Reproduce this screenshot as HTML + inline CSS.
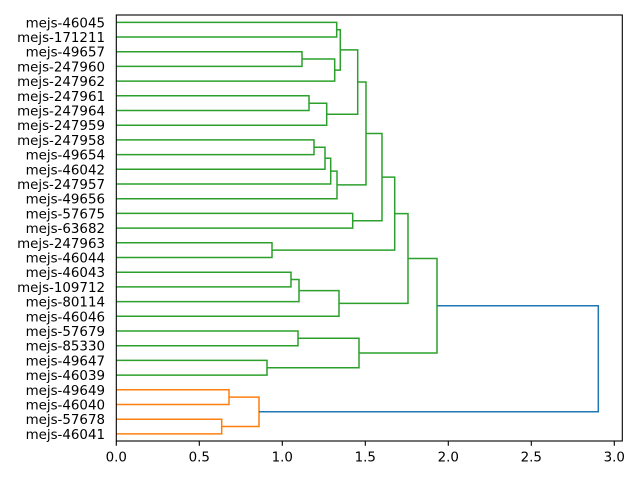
<!DOCTYPE html>
<html><head><meta charset="utf-8"><style>
html,body{margin:0;padding:0;background:#fff;}
svg{display:block;}
text{font-family:"DejaVu Sans","Liberation Sans",sans-serif;font-size:13.4px;fill:#000;}
</style></head><body>
<svg width="640" height="480" viewBox="0 0 640 480" xmlns="http://www.w3.org/2000/svg">
<rect width="640" height="480" fill="#fff"/>
<g fill="none" stroke-width="1.5" stroke-linejoin="miter" stroke-linecap="butt">
<g stroke="#2ca02c">
<polyline points="116.3,22.35 336.7,22.35 336.7,37.04 116.3,37.04"/>
<polyline points="116.3,51.7 302,51.7 302,66.4 116.3,66.4"/>
<polyline points="302,59.0 334.7,59.0 334.7,81.1 116.3,81.1"/>
<polyline points="336.7,29.7 340.3,29.7 340.3,70.1 334.7,70.1"/>
<polyline points="116.3,95.8 309,95.8 309,110.5 116.3,110.5"/>
<polyline points="309,103.2 326.7,103.2 326.7,125.2 116.3,125.2"/>
<polyline points="340.3,49.9 357.7,49.9 357.7,114.2 326.7,114.2"/>
<polyline points="116.3,139.9 314,139.9 314,154.6 116.3,154.6"/>
<polyline points="314,147.2 325,147.2 325,169.3 116.3,169.3"/>
<polyline points="325,158.3 330.7,158.3 330.7,184.0 116.3,184.0"/>
<polyline points="330.7,171.1 337,171.1 337,198.7 116.3,198.7"/>
<polyline points="357.7,82.0 366,82.0 366,184.9 337,184.9"/>
<polyline points="116.3,213.4 352.7,213.4 352.7,228.1 116.3,228.1"/>
<polyline points="366,133.5 382,133.5 382,220.7 352.7,220.7"/>
<polyline points="116.3,242.8 272,242.8 272,257.5 116.3,257.5"/>
<polyline points="382,177.1 394.7,177.1 394.7,250.1 272,250.1"/>
<polyline points="116.3,272.2 291,272.2 291,286.9 116.3,286.9"/>
<polyline points="291,279.5 299,279.5 299,301.6 116.3,301.6"/>
<polyline points="299,290.6 339,290.6 339,316.3 116.3,316.3"/>
<polyline points="394.7,213.6 408,213.6 408,303.4 339,303.4"/>
<polyline points="116.3,331.0 298,331.0 298,345.7 116.3,345.7"/>
<polyline points="116.3,360.4 267,360.4 267,375.1 116.3,375.1"/>
<polyline points="298,338.3 359,338.3 359,367.7 267,367.7"/>
<polyline points="408,258.5 437,258.5 437,353.0 359,353.0"/>
</g>
<g stroke="#ff7f0e">
<polyline points="116.3,389.8 229,389.8 229,404.5 116.3,404.5"/>
<polyline points="116.3,419.2 221.7,419.2 221.7,433.9 116.3,433.9"/>
<polyline points="229,397.1 259,397.1 259,426.5 221.7,426.5"/>
</g>
<polyline stroke="#1f77b4" points="437,305.8 598.3,305.8 598.3,411.8 259,411.8"/>
</g>
<rect x="116.3" y="15" width="506" height="426" fill="none" stroke="#000" stroke-width="1.1"/>
<g stroke="#000" stroke-width="1.1">
<line x1="116.3" y1="441" x2="116.3" y2="445.8"/>
<line x1="199.3" y1="441" x2="199.3" y2="445.8"/>
<line x1="282.3" y1="441" x2="282.3" y2="445.8"/>
<line x1="365.3" y1="441" x2="365.3" y2="445.8"/>
<line x1="448.3" y1="441" x2="448.3" y2="445.8"/>
<line x1="531.3" y1="441" x2="531.3" y2="445.8"/>
<line x1="614.3" y1="441" x2="614.3" y2="445.8"/>
</g>
<g text-anchor="middle">
<text x="116.3" y="461.5">0.0</text>
<text x="199.3" y="461.5">0.5</text>
<text x="282.3" y="461.5">1.0</text>
<text x="365.3" y="461.5">1.5</text>
<text x="448.3" y="461.5">2.0</text>
<text x="531.3" y="461.5">2.5</text>
<text x="614.3" y="461.5">3.0</text>
</g>
<g text-anchor="end">
<text x="105" y="27.3">mejs-46045</text>
<text x="105" y="42.0">mejs-171211</text>
<text x="105" y="56.7">mejs-49657</text>
<text x="105" y="71.4">mejs-247960</text>
<text x="105" y="86.1">mejs-247962</text>
<text x="105" y="100.8">mejs-247961</text>
<text x="105" y="115.5">mejs-247964</text>
<text x="105" y="130.2">mejs-247959</text>
<text x="105" y="144.9">mejs-247958</text>
<text x="105" y="159.6">mejs-49654</text>
<text x="105" y="174.3">mejs-46042</text>
<text x="105" y="189.0">mejs-247957</text>
<text x="105" y="203.7">mejs-49656</text>
<text x="105" y="218.4">mejs-57675</text>
<text x="105" y="233.1">mejs-63682</text>
<text x="105" y="247.8">mejs-247963</text>
<text x="105" y="262.5">mejs-46044</text>
<text x="105" y="277.2">mejs-46043</text>
<text x="105" y="291.9">mejs-109712</text>
<text x="105" y="306.6">mejs-80114</text>
<text x="105" y="321.3">mejs-46046</text>
<text x="105" y="336.0">mejs-57679</text>
<text x="105" y="350.7">mejs-85330</text>
<text x="105" y="365.4">mejs-49647</text>
<text x="105" y="380.1">mejs-46039</text>
<text x="105" y="394.8">mejs-49649</text>
<text x="105" y="409.5">mejs-46040</text>
<text x="105" y="424.2">mejs-57678</text>
<text x="105" y="438.9">mejs-46041</text>
</g>
</svg>
</body></html>
